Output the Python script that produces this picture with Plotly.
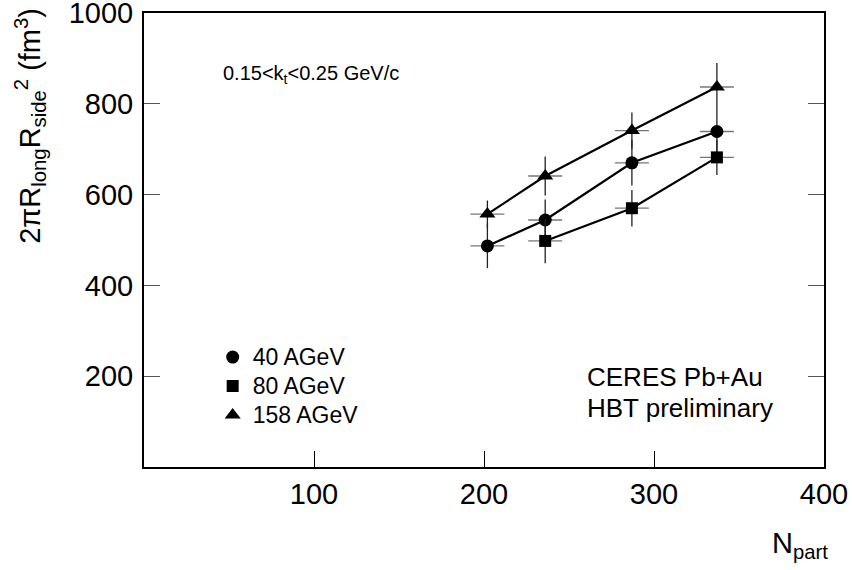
import plotly.graph_objects as go

# ---- data ----
npart_40 = [202, 236, 287, 337]
vol_40 = [487, 544, 670, 739]
err_40 = [49, 45, 50, 45]

npart_80 = [236, 287, 337]
vol_80 = [498, 570, 682]
err_80 = [49, 40, 39]

npart_158 = [202, 236, 287, 337]
vol_158 = [557, 641, 741, 837]
err_158 = [30, 43, 40, 53]

npart_err = 10

labels = ["40 AGeV", "80 AGeV", "158 AGeV"]
symbols = ["circle", "square", "triangle-up"]

x_ticks = [100, 200, 300, 400]
y_ticks = [200, 400, 600, 800, 1000]

FONT = "Liberation Sans, Arial, Helvetica, sans-serif"

fig = go.Figure()

series = [
    (npart_40, vol_40, err_40),
    (npart_80, vol_80, err_80),
    (npart_158, vol_158, err_158),
]
sizes = [13, 12, 14]

for (xs, ys, es), sym, sz in zip(series, symbols, sizes):
    fig.add_trace(go.Scatter(
        x=xs, y=ys, mode="lines+markers",
        line=dict(color="black", width=2.2),
        marker=dict(symbol=sym, size=sz, color="black"),
        error_y=dict(type="data", array=es, visible=True, color="#222", thickness=1.3, width=0),
        error_x=dict(type="constant", value=npart_err, visible=True, color="#777", thickness=1.3, width=0),
        showlegend=False, hoverinfo="skip",
    ))

# legend entries (marker only)
for lab, sym, sz in zip(labels, symbols, sizes):
    fig.add_trace(go.Scatter(
        x=[None], y=[None], mode="markers",
        name="<span style='font-size:23px'>" + lab + "</span>",
        marker=dict(symbol=sym, size=sz, color="black"),
        showlegend=True,
    ))

fig.update_layout(
    width=852, height=570,
    margin=dict(l=144, r=28, t=13, b=103, autoexpand=False),
    paper_bgcolor="white", plot_bgcolor="white",
    font=dict(family=FONT, color="black"),
    showlegend=True,
    legend=dict(
        x=0.101, y=0.285, xanchor="left", yanchor="top",
        bgcolor="rgba(0,0,0,0)", borderwidth=0,
        font=dict(size=20, family=FONT),
        itemwidth=30, tracegroupgap=0,
    ),
)

fig.update_xaxes(
    range=[0, 400], tickvals=x_ticks, ticktext=[str(v) for v in x_ticks],
    showgrid=False, zeroline=False, automargin=False,
    showline=True, linecolor="black", linewidth=2, mirror=True,
    ticks="inside", ticklen=16, tickcolor="black", tickwidth=1,
    tickfont=dict(size=29, family=FONT), ticklabeloverflow="allow",
)
fig.update_yaxes(
    range=[0, 1000], tickvals=y_ticks, ticktext=[str(v) for v in y_ticks],
    showgrid=False, zeroline=False, automargin=False,
    showline=True, linecolor="black", linewidth=2, mirror="ticks",
    ticks="inside", ticklen=16, tickcolor="#555", tickwidth=1,
    tickfont=dict(size=29, family=FONT), ticklabeloverflow="allow",
    ticklabelstandoff=3,
)

fig.add_annotation(
    text="2πR<sub>long</sub>R<sub>side</sub><sup>2</sup> (fm<sup>3</sup>)",
    xref="paper", yref="paper", x=-0.168, y=0.751,
    xanchor="center", yanchor="middle", textangle=-90,
    showarrow=False, font=dict(size=29, family=FONT),
)
fig.add_annotation(
    text="N<sub>part</sub>",
    xref="paper", yref="paper", x=0.964, y=-0.172,
    xanchor="center", yanchor="middle",
    showarrow=False, font=dict(size=29, family=FONT),
)
fig.add_annotation(
    text="0.15&lt;k<sub>t</sub>&lt;0.25 GeV/c",
    xref="paper", yref="paper", x=(221 - 144) / 680, y=(467 - 75) / 454,
    xanchor="left", yanchor="middle",
    showarrow=False, font=dict(size=20, family=FONT),
)
fig.add_annotation(
    text="CERES Pb+Au",
    xref="paper", yref="paper", x=(585 - 144) / 680, y=(467 - 377) / 454,
    xanchor="left", yanchor="middle",
    showarrow=False, font=dict(size=26, family=FONT),
)
fig.add_annotation(
    text="HBT preliminary",
    xref="paper", yref="paper", x=(585 - 144) / 680, y=(467 - 408) / 454,
    xanchor="left", yanchor="middle",
    showarrow=False, font=dict(size=26, family=FONT),
)

fig.write_html("out.html", config={"displayModeBar": False},
               post_script="document.body.style.margin='0';")
